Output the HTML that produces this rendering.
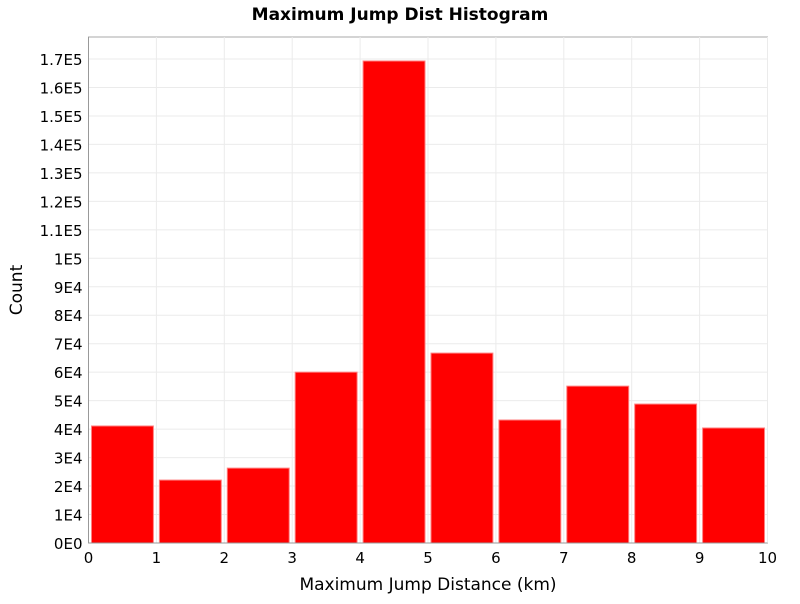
<!DOCTYPE html>
<html><head><meta charset="utf-8"><style>
body{margin:0;background:#fff;font-family:"DejaVu Sans","Liberation Sans",sans-serif;}
</style></head><body>
<svg id="chart" width="800" height="600" xmlns="http://www.w3.org/2000/svg">
<text x="400" y="20" text-anchor="middle" font-size="17" font-weight="bold" font-family="DejaVu Sans, sans-serif">Maximum Jump Dist Histogram</text>
<g id="grid"></g><g id="bars"></g><g id="axes"></g>
<text x="428" y="590" text-anchor="middle" font-size="17" font-family="DejaVu Sans, sans-serif">Maximum Jump Distance (km)</text>
<text transform="translate(22,290) rotate(-90)" text-anchor="middle" font-size="17" font-family="DejaVu Sans, sans-serif">Count</text>
</svg>
<script>
const binStarts=[0,1,2,3,4,5,6,7,8,9];
const counts=[41100,22100,26300,60000,169300,66700,43200,55100,48800,40400];
const yTickLabels=["0E0","1E4","2E4","3E4","4E4","5E4","6E4","7E4","8E4","9E4","1E5","1.1E5","1.2E5","1.3E5","1.4E5","1.5E5","1.6E5","1.7E5"];
const xTickLabels=["0","1","2","3","4","5","6","7","8","9","10"];
const NS="http://www.w3.org/2000/svg";
const L=88.5,R=767.5,T=37,B=543;
const x=v=>L+(v/10)*(R-L);
const y=v=>B-(v/170000)*(B-59);
function mk(tag,attrs,parent){const e=document.createElementNS(NS,tag);for(const k in attrs)e.setAttribute(k,attrs[k]);parent.appendChild(e);return e;}
const grid=document.getElementById('grid'),bars=document.getElementById('bars'),axes=document.getElementById('axes');
mk('rect',{x:L,y:T,width:R-L,height:B-T,fill:'#fff',stroke:'#aaa'},grid);
yTickLabels.forEach((t,i)=>{const v=i*10000,yy=y(v);
 const g=mk('line',{x1:L,x2:R,y1:yy,y2:yy,stroke:'#ebebeb'},grid);
 
 
 const tx=mk('text',{x:L-6,y:yy+6,'text-anchor':'end','font-size':'15'},axes);tx.textContent=t;
 
 
});
xTickLabels.forEach((t,i)=>{const xx=x(+t);
 const g=mk('line',{x1:xx,x2:xx,y1:T,y2:B,stroke:'#ebebeb'},grid);
 
 
 const tx=mk('text',{x:xx,y:B+20,'text-anchor':'middle','font-size':'15'},axes);tx.textContent=t;
 
 
});
mk('line',{x1:L,x2:L,y1:T,y2:B,stroke:'#999'},axes);
mk('line',{x1:L,x2:R,y1:B,y2:B,stroke:'#999'},axes);
binStarts.forEach((s,i)=>{const x0=x(s)+3,x1=x(s+1)-3,yt=y(counts[i]);
 const r=mk('rect',{x:x0,y:yt,width:x1-x0,height:B-yt,fill:'#ff0000',stroke:'#ff8080','stroke-width':'1'},bars);
 
 
});
</script>
</body></html>
